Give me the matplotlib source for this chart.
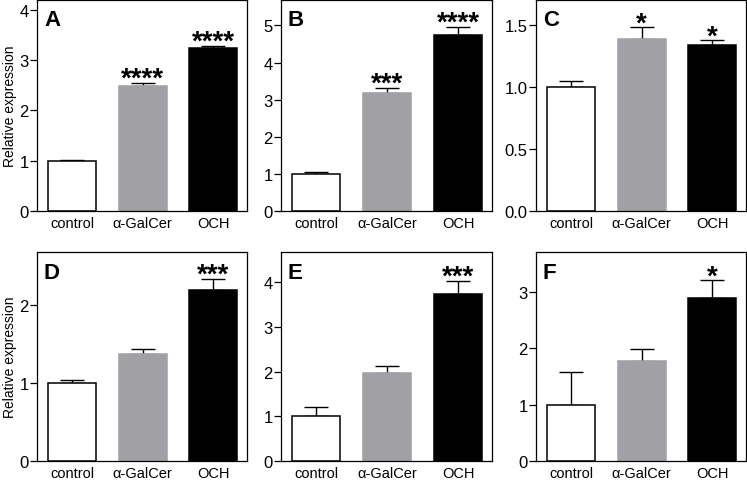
import matplotlib
matplotlib.use("Agg")
import matplotlib.pyplot as plt
from matplotlib.ticker import FormatStrFormatter

plt.rcParams['font.family'] = ['Liberation Sans', 'DejaVu Sans']

categories = ["control", "α-GalCer", "OCH"]
panel_labels = ["A", "B", "C", "D", "E", "F"]

means_A = [1.00, 2.49, 3.23]
errs_A = [0.02, 0.06, 0.05]
means_B = [1.00, 3.17, 4.75]
errs_B = [0.05, 0.15, 0.22]
means_C = [1.00, 1.387, 1.34]
errs_C = [0.054, 0.10, 0.04]
means_D = [1.00, 1.37, 2.19]
errs_D = [0.04, 0.07, 0.15]
means_E = [1.00, 1.96, 3.75]
errs_E = [0.22, 0.16, 0.29]
means_F = [1.00, 1.78, 2.89]
errs_F = [0.58, 0.21, 0.32]

stars_A = ["", "****", "****"]
stars_B = ["", "***", "****"]
stars_C = ["", "*", "*"]
stars_D = ["", "", "***"]
stars_E = ["", "", "***"]
stars_F = ["", "", "*"]

ylims = [4.2, 5.7, 1.71, 2.68, 4.68, 3.71]
yticks = [[0, 1, 2, 3, 4], [0, 1, 2, 3, 4, 5], [0.0, 0.5, 1.0, 1.5],
          [0, 1, 2], [0, 1, 2, 3, 4], [0, 1, 2, 3]]

all_means = [means_A, means_B, means_C, means_D, means_E, means_F]
all_errs = [errs_A, errs_B, errs_C, errs_D, errs_E, errs_F]
all_stars = [stars_A, stars_B, stars_C, stars_D, stars_E, stars_F]

bar_colors = ["white", "#a1a1a5", "black"]
edge_colors = ["black", "#a1a1a5", "black"]

W, H = 747, 481
fig = plt.figure(figsize=(W / 100, H / 100), dpi=100)

cols = [(37, 247), (281, 492), (536, 746)]
rows = [(0.5, 212), (253, 462)]

x = list(range(len(categories)))
for i in range(6):
    r, c = divmod(i, 3)
    l, rr = cols[c]
    t, b = rows[r]
    ax = fig.add_axes([l / W, 1 - b / H, (rr - l) / W, (b - t) / H])
    m = all_means[i]
    e = all_errs[i]
    ax.errorbar(x, m, yerr=[[0] * 3, e], fmt='none', ecolor='black',
                elinewidth=1.0, capsize=8.3, capthick=1.0, zorder=1)
    ax.bar(x, m, width=0.68, color=bar_colors, edgecolor=edge_colors,
           linewidth=1.1, zorder=2)
    for xi, mi, ei, s in zip(x, m, e, all_stars[i]):
        if s:
            ax.annotate(s, xy=(xi, mi + ei), xytext=(0, -2.3), textcoords='offset points',
                        ha='center', va='baseline', fontsize=20, fontweight='bold')
    ax.set_xlim(-0.5, 2.48)
    ax.set_ylim(0, ylims[i])
    ax.set_yticks(yticks[i])
    if i == 2:
        ax.yaxis.set_major_formatter(FormatStrFormatter('%.1f'))
    ax.set_xticks(x)
    ax.set_xticklabels(categories, fontsize=10.5)
    ax.tick_params(axis='x', length=0, pad=3.5)
    ax.tick_params(axis='y', length=5, width=0.9, labelsize=12, pad=1)
    for sp in ax.spines.values():
        sp.set_linewidth(0.9)
    ax.annotate(panel_labels[i], xy=(0, 1), xycoords='axes fraction',
                xytext=(5, -7), textcoords='offset points', ha='left', va='top',
                fontsize=16, fontweight='bold')
    if c == 0:
        ax.set_ylabel("Relative expression", fontsize=10, labelpad=2)

fig.savefig("out.png", dpi=100)
